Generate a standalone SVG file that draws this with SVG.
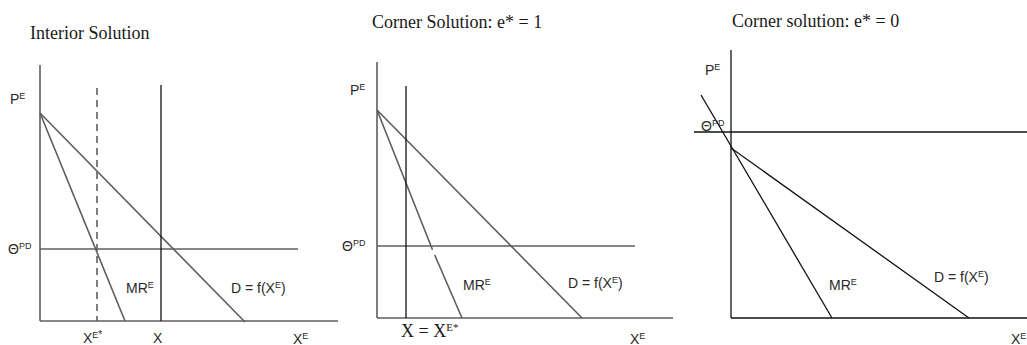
<svg xmlns="http://www.w3.org/2000/svg" width="1027" height="345" viewBox="0 0 1027 345">
<style>
.title{font-family:"Liberation Serif",serif;font-size:18px;fill:#1a1a1a}
.lbl{font-family:"Liberation Sans",Arial,sans-serif;font-size:14px;fill:#2a2a2a}
.sup{font-size:9px}
.g{stroke:#5e5e5e;stroke-width:1.6;fill:none}
.k{stroke:#111;stroke-width:1.3;fill:none}
.dash{stroke-dasharray:7 5}
</style>
<rect width="1027" height="345" fill="#fff"/>

<g id="panel1">
  <text class="title" x="30" y="39">Interior Solution</text>
  <g id="p1-connectors">
    <line class="g" x1="40" y1="65" x2="40" y2="321"/>
    <line class="g" x1="40" y1="321" x2="338" y2="321"/>
    <line class="g" x1="40" y1="249" x2="298" y2="249"/>
    <line class="g" x1="40" y1="113" x2="245" y2="322"/>
    <line class="g" x1="40" y1="113" x2="125" y2="321"/>
    <line class="g dash" x1="97" y1="88" x2="97" y2="321"/>
    <line class="k" x1="161" y1="85" x2="161" y2="321"/>
  </g>
  <g id="p1-labels">
    <text class="lbl" x="10" y="104">P<tspan class="sup" dy="-5">E</tspan></text>
    <text class="lbl" x="8" y="254">Θ<tspan class="sup" dy="-5">PD</tspan></text>
    <text class="lbl" x="126" y="293">MR<tspan class="sup" dy="-5">E</tspan></text>
    <text class="lbl" x="231" y="293">D = f(X<tspan class="sup" dy="-5">E</tspan><tspan dy="5">)</tspan></text>
    <text class="lbl" x="83" y="343">X<tspan class="sup" dy="-5">E</tspan><tspan dy="0" font-size="10">*</tspan></text>
    <text class="lbl" x="153" y="343">X</text>
    <text class="lbl" x="293" y="344">X<tspan class="sup" dy="-5">E</tspan></text>
  </g>
</g>

<g id="panel2">
  <text class="title" x="372" y="28">Corner Solution: e* = 1</text>
  <g id="p2-connectors">
    <line class="g" x1="377" y1="62" x2="377" y2="318"/>
    <line class="g" x1="377" y1="318" x2="673" y2="318"/>
    <line class="g" x1="377" y1="246" x2="635" y2="246"/>
    <line class="g" x1="377" y1="110" x2="582" y2="318"/>
    <line class="g" x1="377" y1="110" x2="432.5" y2="249.8"/>
    <line class="g" x1="434.7" y1="255" x2="462" y2="318"/>
    <line class="k" x1="406" y1="86" x2="406" y2="318"/>
  </g>
  <g id="p2-labels">
    <text class="lbl" x="350" y="95">P<tspan class="sup" dy="-5">E</tspan></text>
    <text class="lbl" x="342" y="251">Θ<tspan class="sup" dy="-5">PD</tspan></text>
    <text class="lbl" x="463" y="290">MR<tspan class="sup" dy="-5">E</tspan></text>
    <text class="lbl" x="568" y="288">D = f(X<tspan class="sup" dy="-5">E</tspan><tspan dy="5">)</tspan></text>
    <text class="title" x="401" y="337" font-size="16">X = X<tspan font-size="11" dy="-6">E*</tspan></text>
    <text class="lbl" x="630" y="344">X<tspan class="sup" dy="-5">E</tspan></text>
  </g>
</g>

<g id="panel3">
  <text class="title" x="732" y="27">Corner solution: e* = 0</text>
  <g id="p3-connectors">
    <line class="k" x1="731" y1="50" x2="731" y2="318"/>
    <line class="k" x1="731" y1="318" x2="1027" y2="318"/>
    <line class="k" x1="694" y1="132" x2="1027" y2="132"/>
    <line class="k" x1="701" y1="95" x2="832" y2="318"/>
    <line class="k" x1="731" y1="148" x2="969" y2="318"/>
  </g>
  <g id="p3-labels">
    <text class="lbl" x="705" y="75">P<tspan class="sup" dy="-5">E</tspan></text>
    <text class="lbl" x="701" y="131">Θ<tspan class="sup" dy="-5">PD</tspan></text>
    <text class="lbl" x="829" y="290">MR<tspan class="sup" dy="-5">E</tspan></text>
    <text class="lbl" x="934" y="282">D = f(X<tspan class="sup" dy="-5">E</tspan><tspan dy="5">)</tspan></text>
    <text class="lbl" x="1011" y="344">X<tspan class="sup" dy="-5">E</tspan></text>
  </g>
</g>
</svg>
